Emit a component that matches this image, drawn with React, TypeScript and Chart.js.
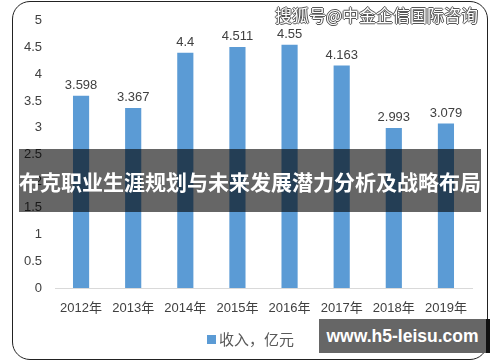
import React, { useEffect, useRef } from "react";
import { Chart, registerables } from "chart.js";

Chart.register(...registerables);

const categories = ["2012年", "2013年", "2014年", "2015年", "2016年", "2017年", "2018年", "2019年"];
const revenue = [3.598, 3.367, 4.4, 4.511, 4.55, 4.163, 2.993, 3.079];
const valueLabels = ["3.598", "3.367", "4.4", "4.511", "4.55", "4.163", "2.993", "3.079"];
const seriesName = "收入，亿元";
const bannerText = "布克职业生涯规划与未来发展潜力分析及战略布局";
const topWatermark = "搜狐号@中金企信国际咨询";
const bottomWatermark = "www.h5-leisu.com";

const BAR = "#5b9bd5";
const FONT = "'Liberation Sans', 'Noto Sans CJK SC', sans-serif";

const labelPlugin = {
  id: "valueLabels",
  afterDatasetsDraw(chart: any) {
    const ctx = chart.ctx;
    const meta = chart.getDatasetMeta(0);
    ctx.save();
    ctx.font = `13px ${FONT}`;
    ctx.fillStyle = "#404040";
    ctx.textAlign = "center";
    ctx.textBaseline = "bottom";
    meta.data.forEach((el: any, i: number) => {
      ctx.fillText(valueLabels[i], el.x, el.y - 4);
    });
    ctx.restore();
  },
};

export default function App() {
  const ref = useRef<HTMLCanvasElement>(null);
  useEffect(() => {
    if (!ref.current) return;
    const chart = new Chart(ref.current, {
      type: "bar",
      data: {
        labels: categories,
        datasets: [
          {
            label: seriesName,
            data: revenue,
            backgroundColor: BAR,
            barPercentage: 0.31,
            categoryPercentage: 1,
          },
        ],
      },
      options: {
        responsive: false,
        animation: false,
        devicePixelRatio: 1,
        layout: { padding: { top: 17, right: 28, bottom: 40, left: 0 } },
        plugins: { legend: { display: false }, tooltip: { enabled: false } },
        scales: {
          x: {
            grid: { display: false, drawTicks: false },
            border: { display: true, color: "#d9d9d9", width: 1 },
            ticks: { color: "#404040", font: { size: 13, family: FONT }, padding: 13, maxRotation: 0 },
            afterFit: (s: any) => { s.height = 34; },
          },
          y: {
            min: 0,
            max: 5,
            grid: { display: false, drawTicks: false },
            border: { display: false },
            ticks: {
              stepSize: 0.5,
              color: "#404040",
              font: { size: 13, family: FONT },
              padding: 13,
              callback: (v: any) => String(Number(v)),
            },
            afterFit: (s: any) => { s.width = 55; },
          },
        },
      },
      plugins: [labelPlugin],
    });
    return () => chart.destroy();
  }, []);

  const shadow = "#555";
  return (
    <div style={{ position: "fixed", left: 0, top: 0, width: 500, height: 362, background: "#fff", overflow: "hidden" }}>
      <canvas ref={ref} width={500} height={362} style={{ position: "absolute", left: 0, top: 0 }} />
      <div style={{ position: "absolute", left: 12, top: 1, width: 474, height: 357, border: "1.5px solid #222", borderRadius: 18, pointerEvents: "none" }} />
      <div style={{ position: "absolute", left: 19, top: 149, width: 462, height: 63, background: "rgba(0,0,0,0.6)" }} />
      <div style={{ position: "absolute", left: 0, top: 149, width: 500, height: 63, display: "flex", alignItems: "center", justifyContent: "center", color: "#fff", fontFamily: "'Noto Sans CJK SC', sans-serif", fontWeight: 700, fontSize: 21, whiteSpace: "nowrap" }}>
        {bannerText}
      </div>
      <div style={{ position: "absolute", left: 275, top: 5, lineHeight: "20px", fontSize: 17, fontFamily: "'Noto Sans CJK SC', sans-serif", color: "#fff", whiteSpace: "nowrap", textShadow: `1px 0 0 ${shadow}, -1px 0 0 ${shadow}, 0 1px 0 ${shadow}, 0 -1px 0 ${shadow}` }}>
        {topWatermark}
      </div>
      <div style={{ position: "absolute", left: 319, top: 319, width: 167, height: 34, background: "#666", borderRight: "4px solid #111", display: "flex", alignItems: "center", justifyContent: "center", color: "#fff", fontFamily: FONT, fontWeight: 700, fontSize: 17.5, whiteSpace: "nowrap" }}>
        {bottomWatermark}
      </div>
      <div style={{ position: "absolute", left: 207, top: 335, width: 9, height: 9, background: BAR }} />
      <div style={{ position: "absolute", left: 219, top: 329, lineHeight: "20px", fontSize: 15, fontFamily: "'Noto Sans CJK SC', sans-serif", color: "#595959", whiteSpace: "nowrap" }}>
        {seriesName}
      </div>
    </div>
  );
}
